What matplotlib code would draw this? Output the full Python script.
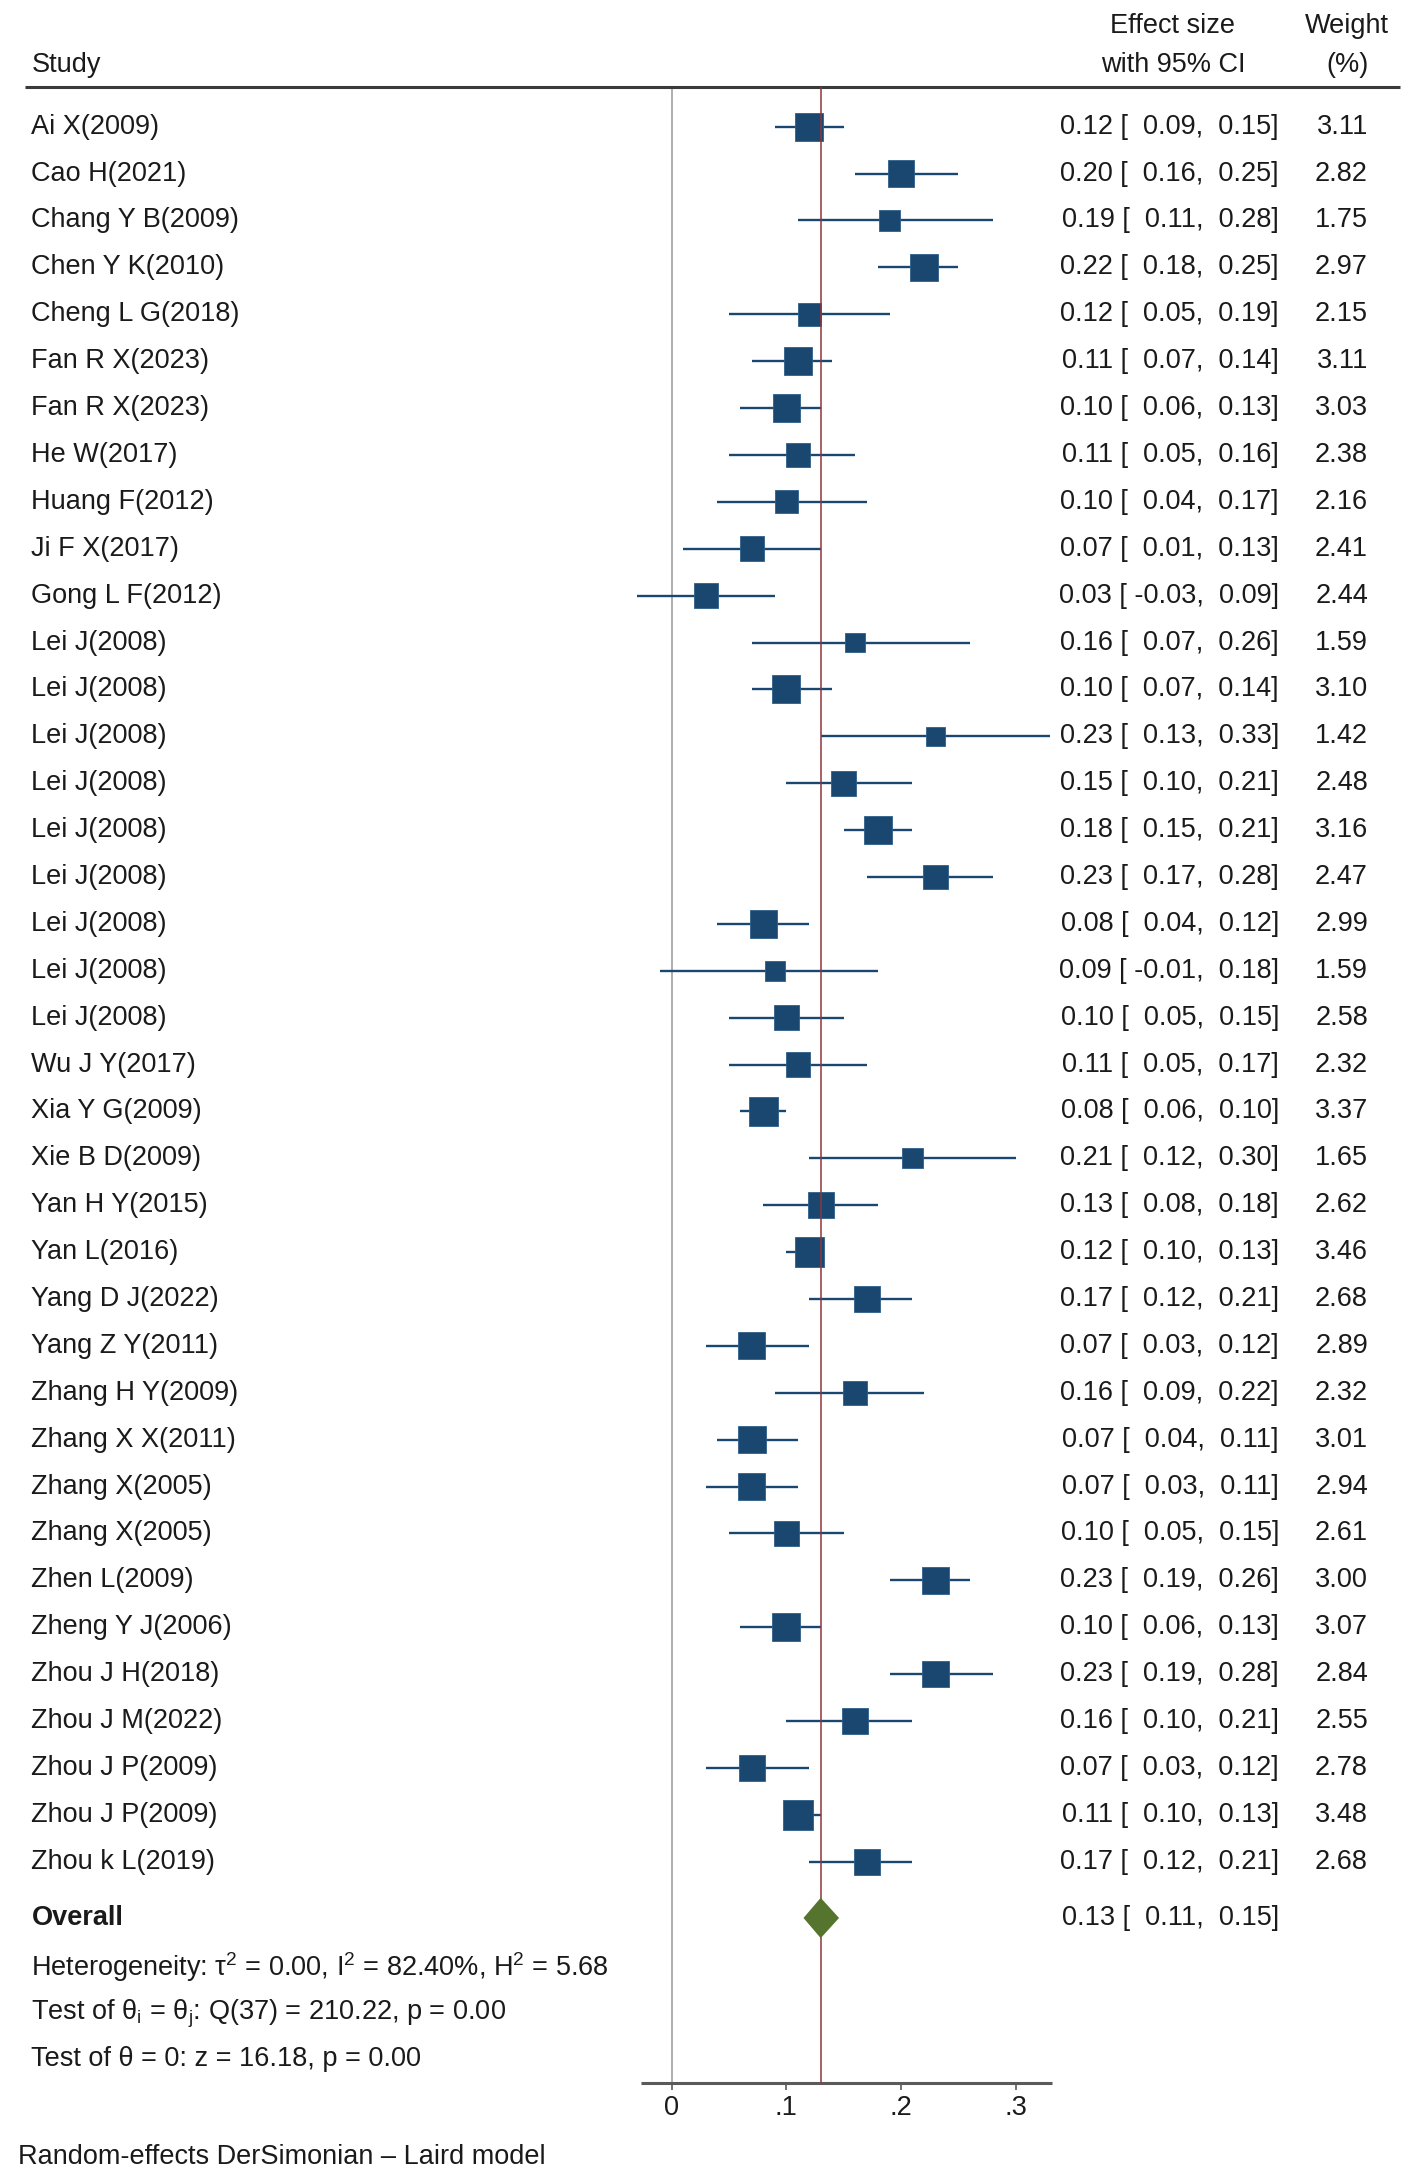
import matplotlib
matplotlib.use("Agg")
import matplotlib.pyplot as plt
import matplotlib.transforms as mtransforms

plt.rcParams['font.family'] = ['Liberation Sans', 'DejaVu Sans']
plt.rcParams['mathtext.fontset'] = 'custom'
plt.rcParams['mathtext.rm'] = 'Liberation Sans'
plt.rcParams['mathtext.it'] = 'Liberation Sans:italic'

# Data
studies = ["Ai X(2009)", "Cao H(2021)", "Chang Y B(2009)", "Chen Y K(2010)",
           "Cheng L G(2018)", "Fan R X(2023)", "Fan R X(2023)", "He W(2017)",
           "Huang F(2012)", "Ji F X(2017)", "Gong L F(2012)", "Lei J(2008)",
           "Lei J(2008)", "Lei J(2008)", "Lei J(2008)", "Lei J(2008)",
           "Lei J(2008)", "Lei J(2008)", "Lei J(2008)", "Lei J(2008)",
           "Wu J Y(2017)", "Xia Y G(2009)", "Xie B D(2009)", "Yan H Y(2015)",
           "Yan L(2016)", "Yang D J(2022)", "Yang Z Y(2011)", "Zhang H Y(2009)",
           "Zhang X X(2011)", "Zhang X(2005)", "Zhang X(2005)", "Zhen L(2009)",
           "Zheng Y J(2006)", "Zhou J H(2018)", "Zhou J M(2022)", "Zhou J P(2009)",
           "Zhou J P(2009)", "Zhou k L(2019)"]
es = [0.12, 0.20, 0.19, 0.22, 0.12, 0.11, 0.10, 0.11, 0.10, 0.07, 0.03, 0.16,
      0.10, 0.23, 0.15, 0.18, 0.23, 0.08, 0.09, 0.10, 0.11, 0.08, 0.21, 0.13,
      0.12, 0.17, 0.07, 0.16, 0.07, 0.07, 0.10, 0.23, 0.10, 0.23, 0.16, 0.07,
      0.11, 0.17]
lo = [0.09, 0.16, 0.11, 0.18, 0.05, 0.07, 0.06, 0.05, 0.04, 0.01, -0.03, 0.07,
      0.07, 0.13, 0.10, 0.15, 0.17, 0.04, -0.01, 0.05, 0.05, 0.06, 0.12, 0.08,
      0.10, 0.12, 0.03, 0.09, 0.04, 0.03, 0.05, 0.19, 0.06, 0.19, 0.10, 0.03,
      0.10, 0.12]
hi = [0.15, 0.25, 0.28, 0.25, 0.19, 0.14, 0.13, 0.16, 0.17, 0.13, 0.09, 0.26,
      0.14, 0.33, 0.21, 0.21, 0.28, 0.12, 0.18, 0.15, 0.17, 0.10, 0.30, 0.18,
      0.13, 0.21, 0.12, 0.22, 0.11, 0.11, 0.15, 0.26, 0.13, 0.28, 0.21, 0.12,
      0.13, 0.21]
weights = [3.11, 2.82, 1.75, 2.97, 2.15, 3.11, 3.03, 2.38, 2.16, 2.41, 2.44, 1.59,
           3.10, 1.42, 2.48, 3.16, 2.47, 2.99, 1.59, 2.58, 2.32, 3.37, 1.65, 2.62,
           3.46, 2.68, 2.89, 2.32, 3.01, 2.94, 2.61, 3.00, 3.07, 2.84, 2.55, 2.78,
           3.48, 2.68]

overall_es = 0.13
overall_lo = 0.115
overall_hi = 0.146
overall_text = "0.13 [  0.11,  0.15]"
ticks = [0, 0.1, 0.2, 0.3]
tick_labels = ["0", ".1", ".2", ".3"]

navy = '#1a476f'
green = '#55752f'
maroon = '#90353b'
txt = '#1a1a1a'
fs = 19.5

fig = plt.figure(figsize=(14.12, 21.74), dpi=100)
ax = fig.add_axes([0, 0, 1, 1])
ax.set_xlim(-671.6 / 1147, (1412 - 671.6) / 1147)
ax.set_ylim(43.66, -2.702)
ax.axis('off')
tr = mtransforms.blended_transform_factory(fig.transFigure, ax.transData)

n = len(studies)
rows = list(range(n))
y_overall = n + 0.2
y_axis = 41.71
y_top = -0.847

# reference lines
ax.vlines(0, y_top, y_axis, color='#a8a8a8', lw=1.3, zorder=1)
ax.vlines(overall_es, y_top, y_axis, color=maroon, lw=1.1, zorder=4)

# study CIs and boxes
ax.hlines(rows, lo, hi, color=navy, lw=1.7, zorder=2)
ax.scatter(es, rows, s=[w * 130 for w in weights], marker='s', color=navy,
           edgecolor='#2f5f8a', linewidth=0.6, zorder=3)

# overall diamond
dh = 0.43
ax.fill([overall_lo, overall_es, overall_hi, overall_es],
        [y_overall, y_overall - dh, y_overall, y_overall + dh],
        color=green, zorder=5, lw=0)

# header line and x axis
ax.plot([25 / 1412, 1400 / 1412], [y_top, y_top], transform=tr,
        color='#3a3a3a', lw=2.2, solid_capstyle='butt')
ax.hlines(y_axis, min(lo) + 0.0033, max(hi) + 0.002, color='#5a5a5a', lw=2.2)
ax.vlines(ticks, y_axis, y_axis + 0.16, color='#5a5a5a', lw=1.2)
for t, lab in zip(ticks, tick_labels):
    ax.text(t, 42.26, lab, ha='center', va='center', fontsize=fs, color=txt)

# headers
ax.text(31.5 / 1412, -1.32, "Study", transform=tr, ha='left', va='center',
        fontsize=fs, color=txt)
ax.text(1173 / 1412, -2.14, "Effect size", transform=tr, ha='center',
        va='center', fontsize=fs, color=txt)
ax.text(1173 / 1412, -1.32, "with 95% CI", transform=tr, ha='center',
        va='center', fontsize=fs, color=txt)
ax.text(1347 / 1412, -2.14, "Weight", transform=tr, ha='center', va='center',
        fontsize=fs, color=txt)
ax.text(1347 / 1412, -1.32, "(%)", transform=tr, ha='center', va='center',
        fontsize=fs, color=txt)

# study rows text
for i in rows:
    ax.text(31.5 / 1412, i, studies[i], transform=tr, ha='left', va='center',
            fontsize=fs, color=txt)
    s = f"{es[i]:.2f} [{lo[i]:6.2f},{hi[i]:6.2f}]"
    ax.text(1279 / 1412, i, s, transform=tr, ha='right', va='center',
            fontsize=fs, color=txt)
    ax.text(1368 / 1412, i, f"{weights[i]:.2f}", transform=tr, ha='right',
            va='center', fontsize=fs, color=txt)

# overall and statistics
ax.text(31.5 / 1412, y_overall, "Overall", transform=tr, ha='left',
        va='center', fontsize=fs, color=txt, fontweight='bold')
ax.text(1279 / 1412, y_overall, overall_text, transform=tr, ha='right',
        va='center', fontsize=fs, color=txt)
ax.text(31.5 / 1412, 39.25,
        r"Heterogeneity: τ$^2$ = 0.00, I$^2$ = 82.40%, H$^2$ = 5.68",
        transform=tr, ha='left', va='center', fontsize=fs, color=txt)
ax.text(31.5 / 1412, 40.25,
        r"Test of θ$_\mathrm{i}$ = θ$_\mathrm{j}$: Q(37) = 210.22, p = 0.00",
        transform=tr, ha='left', va='center', fontsize=fs, color=txt)
ax.text(31.5 / 1412, 41.21, "Test of θ = 0: z = 16.18, p = 0.00",
        transform=tr, ha='left', va='center', fontsize=fs, color=txt)
ax.text(18 / 1412, 43.3, "Random-effects DerSimonian – Laird model",
        transform=tr, ha='left', va='center', fontsize=fs, color=txt)

fig.savefig("out.png", dpi=100, facecolor='white')
